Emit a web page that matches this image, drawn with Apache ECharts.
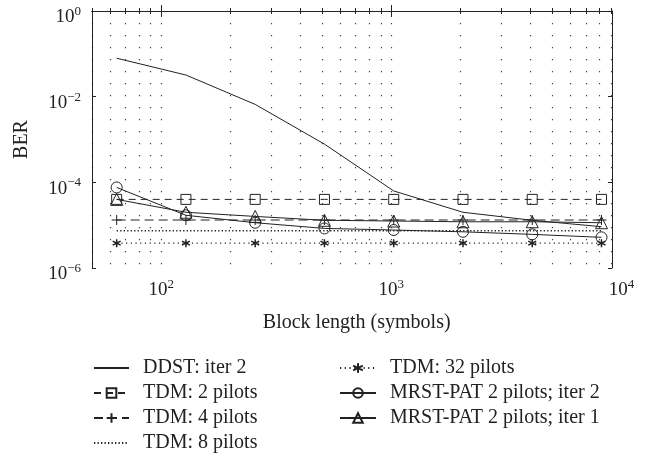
<!DOCTYPE html>
<html>
<head>
<meta charset="utf-8">
<script src="https://cdn.jsdelivr.net/npm/echarts@6/dist/echarts.min.js"></script>
<style>
  html, body { margin: 0; padding: 0; background: #fff; }
  #chart { width: 650px; height: 458px; }
</style>
</head>
<body>
<div id="chart"></div>
<script>
// block lengths (symbols) and BER
const blockLen = [64, 128, 256, 512, 1024, 2048, 4096, 8192];
const ddstIter2 = [7.9e-2, 3.2e-2, 6.6e-3, 7.8e-4, 6.3e-5, 2.0e-5, 1.3e-5, 9.2e-6];
const tdm2 = [4.0e-5, 4.0e-5, 4.0e-5, 4.0e-5, 4.0e-5, 4.0e-5, 4.0e-5, 4.0e-5];
const tdm4 = [1.32e-5, 1.32e-5, 1.32e-5, 1.32e-5, 1.32e-5, 1.32e-5, 1.32e-5, 1.32e-5];
const tdm8 = [7.4e-6, 7.4e-6, 7.4e-6, 7.4e-6, 7.4e-6, 7.4e-6, 7.4e-6, 7.4e-6];
const tdm32 = [3.8e-6, 3.8e-6, 3.8e-6, 3.8e-6, 3.8e-6, 3.8e-6, 3.8e-6, 3.8e-6];
const mrstIter2 = [7.6e-5, 1.7e-5, 1.14e-5, 8.4e-6, 7.7e-6, 7.0e-6, 6.1e-6, 5.2e-6];
const mrstIter1 = [4.0e-5, 2.0e-5, 1.6e-5, 1.3e-5, 1.25e-5, 1.2e-5, 1.2e-5, 1.14e-5];

const xTickExp = [2, 3, 4];
const yTickExp = [0, -2, -4, -6];
const xMin = 50, xMax = 9100;

const INK = '#222';
const FONT = 'Liberation Serif';

// log grid positions 1..9 x 10^k (in log10 space)
const xMinor = [];
for (let e = 1; e <= 3; e++) {
  for (let m = 1; m <= 9; m++) xMinor.push(Math.log10(m * Math.pow(10, e)));
}

const lx0 = Math.log10(xMin), lx1 = Math.log10(xMax);
const plotLeft = 92, plotTop = 11, plotW = 520, plotH = 257;
const pxPerDec = plotW / (lx1 - lx0);

function pts(vals) {
  return blockLen.map((n, i) => [Math.log10(n), Math.log10(vals[i])]);
}
function powLabel(v) {
  const e = Math.round(v);
  return '{b|10}{s|' + String(e).replace('-', '\u2212') + '}';
}
const labelRich = {
  b: { fontFamily: FONT, fontSize: 19, color: INK, lineHeight: 22, verticalAlign: 'bottom' },
  s: { fontFamily: FONT, fontSize: 13, color: INK, lineHeight: 13, verticalAlign: 'top' }
};

const hollow = { color: 'none', borderColor: INK, borderWidth: 1 };
const invisible = { color: 'none', borderColor: 'none', borderWidth: 0 };

const chart = echarts.init(document.getElementById('chart'));
chart.setOption({
  backgroundColor: '#fff',
  animation: false,
  grid: [
    { left: plotLeft, top: plotTop, width: plotW, height: plotH },
    { left: plotLeft, top: plotTop, width: pxPerDec * (4 - lx0), height: plotH }
  ],
  xAxis: [
    {
      type: 'value', gridIndex: 0, min: lx0, max: lx1, position: 'bottom',
      axisLine: { lineStyle: { color: INK, width: 1 } },
      axisTick: { inside: true, length: 3, customValues: xMinor, lineStyle: { color: INK } },
      axisLabel: { show: false },
      splitLine: { show: true, lineStyle: { color: '#444', width: 1.2, type: [1.2, 10.8] } }
    },
    {
      type: 'value', gridIndex: 0, min: lx0, max: lx1, position: 'top',
      axisLine: { lineStyle: { color: INK, width: 1 } },
      axisTick: { inside: true, length: 3, customValues: xMinor, lineStyle: { color: INK } },
      axisLabel: { show: false },
      splitLine: { show: false }
    },
    {
      type: 'value', gridIndex: 1, min: lx0, max: 4, position: 'bottom',
      axisLine: { show: false },
      axisTick: { inside: true, length: 6, customValues: [2, 3], lineStyle: { color: INK } },
      axisLabel: { customValues: xTickExp, formatter: powLabel, rich: labelRich, margin: 10 },
      splitLine: { show: false },
      name: 'Block length (symbols)', nameLocation: 'middle', nameGap: 45,
      nameTextStyle: { fontFamily: FONT, fontSize: 20, color: INK }
    },
    {
      type: 'value', gridIndex: 1, min: lx0, max: 4, position: 'top',
      axisLine: { show: false },
      axisTick: { inside: true, length: 6, customValues: [2, 3], lineStyle: { color: INK } },
      axisLabel: { show: false },
      splitLine: { show: false }
    }
  ],
  yAxis: [
    {
      type: 'value', gridIndex: 0, min: -6, max: 0, interval: 2, position: 'left',
      axisLine: { show: true, lineStyle: { color: INK, width: 1 } },
      axisTick: { show: true, inside: true, length: 4, lineStyle: { color: INK } },
      axisLabel: { customValues: yTickExp, formatter: powLabel, rich: labelRich, margin: 11, padding: [10, 0, 0, 0] },
      splitLine: { show: false },
      name: 'BER', nameLocation: 'middle', nameGap: 60,
      nameTextStyle: { fontFamily: FONT, fontSize: 20, color: INK }
    },
    {
      type: 'value', gridIndex: 0, min: -6, max: 0, interval: 2, position: 'right',
      axisLine: { show: true, lineStyle: { color: INK, width: 1 } },
      axisTick: { show: true, inside: true, length: 4, lineStyle: { color: INK } },
      axisLabel: { show: false },
      splitLine: { show: false }
    },
    { type: 'value', gridIndex: 1, min: -6, max: 0, show: false }
  ],
  legend: [
    {
      orient: 'vertical', left: 88, top: 353, height: 105, itemWidth: 35, itemHeight: 12, itemGap: 5,
      textStyle: { fontFamily: FONT, fontSize: 20, color: INK, padding: [0, 0, 0, 9] },
      data: ['DDST: iter 2', 'TDM: 2 pilots', 'TDM: 4 pilots', 'TDM: 8 pilots']
    },
    {
      orient: 'vertical', left: 334, top: 353, height: 105, itemWidth: 36, itemHeight: 12, itemGap: 5,
      textStyle: { fontFamily: FONT, fontSize: 20, color: INK, padding: [0, 0, 0, 9] },
      data: ['TDM: 32 pilots', 'MRST-PAT 2 pilots; iter 2', 'MRST-PAT 2 pilots; iter 1']
    }
  ],
  series: [
    {
      name: 'DDST: iter 2', type: 'line', data: pts(ddstIter2), showSymbol: false, symbol: 'circle',
      lineStyle: { color: INK, width: 1 }, itemStyle: invisible
    },
    {
      name: 'TDM: 2 pilots', type: 'line', data: pts(tdm2), symbol: 'rect', symbolSize: 10,
      lineStyle: { color: INK, width: 1, type: [7, 5] }, itemStyle: hollow
    },
    {
      name: 'TDM: 4 pilots', type: 'line', data: pts(tdm4), symbol: 'path://M0,5L10,5M5,0L5,10', symbolSize: 10,
      lineStyle: { color: INK, width: 1, type: [9, 5] }, itemStyle: hollow
    },
    {
      name: 'TDM: 8 pilots', type: 'line', data: pts(tdm8), showSymbol: false, symbol: 'circle',
      lineStyle: { color: INK, width: 1.3, type: [1.3, 2.2] }, itemStyle: invisible
    },
    {
      name: 'TDM: 32 pilots', type: 'line', data: pts(tdm32),
      symbol: 'path://M5,0L5,10M0.67,2.5L9.33,7.5M0.67,7.5L9.33,2.5', symbolSize: 8,
      lineStyle: { color: INK, width: 1.2, type: [1.2, 3.5] }, itemStyle: { color: 'none', borderColor: INK, borderWidth: 1.5 }
    },
    {
      name: 'MRST-PAT 2 pilots; iter 2', type: 'line', data: pts(mrstIter2), symbol: 'circle', symbolSize: 11,
      lineStyle: { color: INK, width: 1 }, itemStyle: hollow
    },
    {
      name: 'MRST-PAT 2 pilots; iter 1', type: 'line', data: pts(mrstIter1), symbol: 'triangle', symbolSize: 12,
      lineStyle: { color: INK, width: 1 }, itemStyle: hollow
    }
  ]
});
</script>
</body>
</html>
